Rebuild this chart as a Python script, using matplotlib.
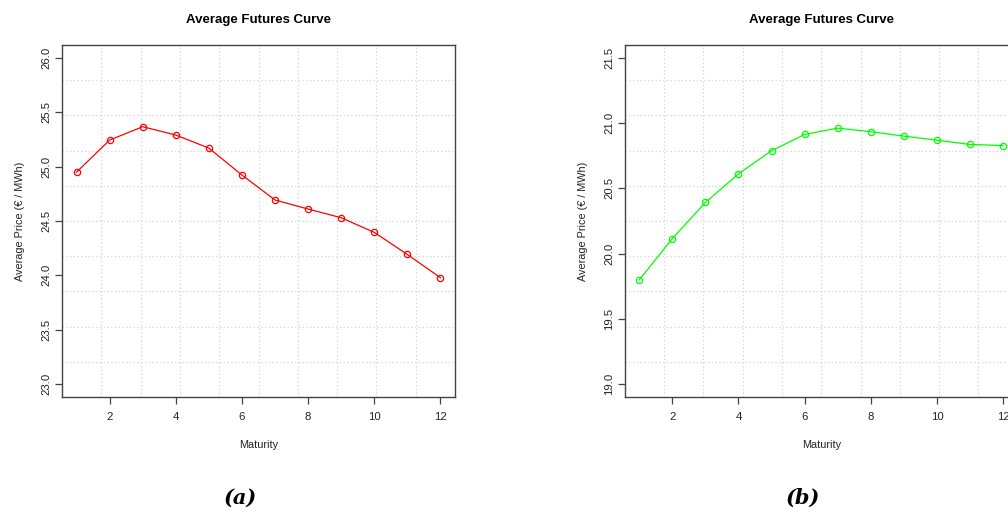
import numpy as np
import matplotlib
matplotlib.use('Agg')
import matplotlib.pyplot as plt

plt.rcParams['font.family'] = ['Liberation Sans', 'DejaVu Sans']

# maturities (months ahead)
maturity = np.arange(1, 13)

# average futures prices
price_a = [24.95, 25.245, 25.368, 25.291, 25.171, 24.923,
           24.693, 24.610, 24.530, 24.395, 24.192, 23.978]
price_b = [19.798, 20.115, 20.392, 20.612, 20.789, 20.914,
           20.962, 20.935, 20.901, 20.870, 20.837, 20.829]

ylim_a = (23.0, 26.0)
ylim_b = (19.0, 21.5)
yticks_a = [23.0, 23.5, 24.0, 24.5, 25.0, 25.5, 26.0]
yticks_b = [19.0, 19.5, 20.0, 20.5, 21.0, 21.5]
xticks = [2, 4, 6, 8, 10, 12]

W, H = 1008, 516
fig = plt.figure(figsize=(W / 100, H / 100), dpi=100)


def r_lim(lo, hi):
    # R style 4% extension of the range
    d = (hi - lo) * 0.04
    return lo - d, hi + d


def r_panel(left_px, prices, ylim, yticks, color, tag):
    ax = fig.add_axes([left_px / W, (H - 397) / H, 393 / W, 352 / H])
    xl = r_lim(1, 12)
    yl = r_lim(*ylim)
    ax.set_xlim(xl)
    ax.set_ylim(yl)

    # grid(10, 10): equal divisions of the plot region
    for k in range(1, 10):
        ax.axvline(xl[0] + k * (xl[1] - xl[0]) / 10, color='#d3d3d3',
                   lw=0.9, ls=(0, (1, 2)), zorder=0)
        ax.axhline(yl[0] + k * (yl[1] - yl[0]) / 10, color='#d3d3d3',
                   lw=0.9, ls=(0, (1, 2)), zorder=0)

    ax.plot(maturity, prices, color=color, lw=0.9, marker='o', ms=4.5,
            mfc='none', mec=color, mew=0.9, zorder=3)

    ax.set_xticks(xticks)
    ax.set_xticklabels([str(t) for t in xticks])
    ax.set_yticks(yticks)
    ax.set_yticklabels(['%.1f' % t for t in yticks], rotation=90, va='center')
    ax.tick_params(direction='out', length=5, width=0.9, color='#444444',
                   labelsize=8.2, labelcolor='#222222')
    ax.tick_params(axis='x', pad=6)
    ax.tick_params(axis='y', pad=2.5)
    for s in ax.spines.values():
        s.set_color('#444444')
        s.set_linewidth(1.0)

    ax.set_title('Average Futures Curve', fontsize=9.5, fontweight='bold',
                 pad=16)
    ax.set_xlabel('Maturity', fontsize=7.8, labelpad=13, color='#222222')
    ax.set_ylabel('Average Price (\u20ac / MWh)', fontsize=7.8, labelpad=12,
                  color='#222222')

    cx = (left_px + 393 / 2 - 18) / W
    fig.text(cx, (H - 498) / H, tag, ha='center', va='center',
             family='DejaVu Serif', style='italic', fontweight='bold',
             fontsize=15)
    return ax


r_panel(62, price_a, ylim_a, yticks_a, 'red', '(a)')
r_panel(624.7, price_b, ylim_b, yticks_b, '#00ff00', '(b)')

fig.savefig('out.png', dpi=100)
